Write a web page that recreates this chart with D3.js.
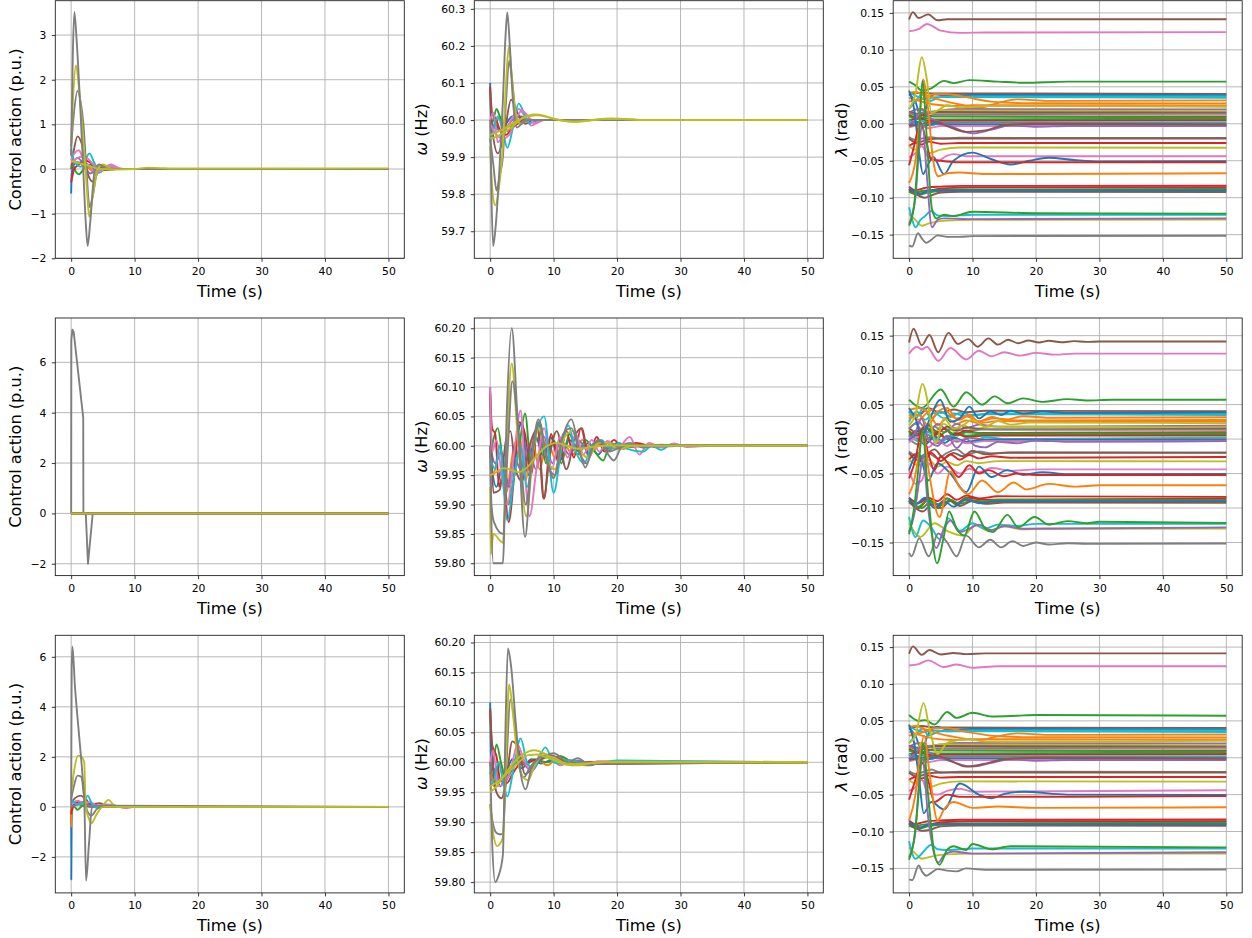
<!DOCTYPE html>
<html><head><meta charset="utf-8">
<script src="https://cdn.jsdelivr.net/npm/d3@7"></script>
<style>body{margin:0;background:#fff}svg{display:block}text{font-family:"DejaVu Sans",sans-serif;fill:#000}</style>
</head><body><svg id="c" width="1252" height="938"></svg>
<script>
// ---------- DATA ----------
const palette = ["#1f77b4","#ff7f0e","#2ca02c","#d62728","#9467bd","#8c564b","#e377c2","#7f7f7f","#bcbd22","#17becf"];
const xTicks = [0,10,20,30,40,50];
const xLimits = [-2.5,52.5];
const xLabel = "Time (s)";

const ctrlTicksRow1 = [-2,-1,0,1,2,3];
const ctrlTicksRow23 = [-2,0,2,4,6];
const freqTicksRow1 = [59.7,59.8,59.9,60.0,60.1,60.2,60.3];
const freqTicksRow23 = [59.80,59.85,59.90,59.95,60.00,60.05,60.10,60.15,60.20];
const angleTicks = [-0.15,-0.10,-0.05,0.00,0.05,0.10,0.15];

const ctrlLimRow1 = [-2.0,3.77], ctrlLimRow2 = [-2.47,7.76], ctrlLimRow3 = [-3.44,6.86];
const freqLimRow1 = [59.627,60.322], freqLimRow2 = [59.779,60.2175], freqLimRow3 = [59.782,60.212];
const angleLimRow1 = [-0.182,0.1665], angleLimRow2 = [-0.198,0.1756], angleLimRow3 = [-0.1832,0.166];

// each series: [colour index, t0, v0, t1, v1, ...]
const ctrlRow1 = [
 [0, 0,-0.55, 0.1,-0.1, 0.4,0.1, 1,0.15, 2,0.1, 3,0.02, 4,0.0, 6,0.02, 8,0.0, 50,0.0],
 [1, 0,0.1, 0.5,0.15, 1.5,0.12, 2.5,0.05, 3.5,-0.05, 4.5,0.02, 6,0.0, 50,0.0],
 [2, 0,0.45, 0.3,0.1, 1.2,-0.12, 2,0.0, 3,0.1, 4,0.0, 5,-0.03, 7,0.0, 50,0.0],
 [3, 0,-0.3, 0.5,0.0, 1.2,0.1, 2,0.2, 3,0.15, 4,0.05, 5,-0.02, 7,0.0, 50,0.0],
 [4, 0,0.05, 1,0.25, 2,0.1, 3,-0.1, 4.5,0.03, 6,0.0, 50,0.0],
 [5, 0,0.0, 0.4,0.4, 1.0,0.73, 1.8,0.5, 2.6,-0.1, 3.4,-0.28, 4.3,-0.05, 5.5,0.05, 7,0.0, 50,0.0],
 [6, 0,0.2, 0.5,0.35, 1.2,0.42, 2,0.2, 3,0.05, 4,-0.1, 5,0.0, 6.3,0.1, 7.5,0.02, 9,0.0, 50,0.0],
 [9, 0,0.4, 0.6,0.15, 1.5,0.05, 2.2,0.2, 2.9,0.35, 3.6,0.15, 4.5,-0.08, 5.5,0.05, 7,0.0, 50,0.0],
 [6, 0,0.15, 1,0.25, 2,0.28, 3.5,0.1, 4.5,-0.05, 6,0.08, 7.5,0.0, 50,0.0],
 [7, 0,0.5, 0.4,1.2, 1.0,1.75, 1.5,1.5, 1.9,1.05, 2.4,0.0, 2.9,-0.85, 3.4,-0.6, 4.2,0.0, 5,0.08, 6.5,0.0, 50,0.0],
 [8, 0,0.6, 0.3,1.6, 0.76,2.32, 1.3,1.7, 2.0,0.5, 2.5,-0.5, 2.85,-1.07, 3.3,-0.7, 4.2,0.0, 5,0.1, 6.5,0.0, 50,0.0],
 [7, 0,0.3, 0.25,2.5, 0.5,3.52, 0.9,2.8, 1.5,1.2, 1.9,0.0, 2.3,-1.2, 2.6,-1.72, 3.0,-1.2, 3.75,0.0, 4.5,0.1, 5.5,0.0, 50,0.0],
 [8, 0,0.18, 1,0.14, 2,0.1, 3,0.06, 4.5,0.0, 7,-0.01, 10,0.0, 12,0.03, 14,0.02, 17,0.01, 50,0.015]
];

const freqRow1 = [
 [0, 0,60.1, 0.15,59.96, 0.8,59.99, 1.6,59.97, 2.5,59.99, 3.5,60.01, 5,60.005, 7,60.0, 50,60.0],
 [1, 0,60.0, 0.6,59.98, 1.5,60.01, 2.5,59.98, 3.5,59.99, 4.5,60.01, 6,60.0, 50,60.0],
 [2, 0,59.98, 0.5,60.0, 1.0,60.03, 1.7,60.0, 2.5,59.97, 3.5,59.985, 4.3,60.01, 5.5,60.0, 50,60.0],
 [3, 0,60.09, 0.3,60.02, 1,60.0, 1.6,59.97, 2.5,59.96, 3.3,59.975, 4.3,59.99, 5.5,60.0, 50,60.0],
 [4, 0,60.0, 0.8,59.98, 2,59.97, 3.5,60.0, 5,60.01, 6.5,59.995, 8,60.0, 50,60.0],
 [5, 0,60.08, 0.3,59.98, 1.2,59.91, 2.2,59.96, 3.3,60.055, 4.3,60.02, 5.5,59.99, 7,60.0, 50,60.0],
 [6, 0,60.0, 0.5,60.02, 1.2,59.94, 2.3,59.97, 3.3,60.0, 4.5,60.03, 5.5,60.01, 6.5,59.985, 8,60.0, 50,60.0],
 [9, 0,59.94, 0.6,59.98, 1.2,60.01, 2.0,59.97, 2.7,59.925, 3.6,59.98, 4.5,60.045, 5.3,60.02, 6.2,59.99, 7.2,60.0, 50,60.0],
 [6, 0,59.99, 1,59.96, 2,59.95, 3,59.96, 4,60.0, 5,60.025, 6,60.01, 7,59.99, 8.5,60.0, 50,60.0],
 [7, 0,59.95, 0.5,59.88, 1.0,59.81, 1.5,59.85, 2.0,59.9, 2.5,60.05, 3.0,60.16, 3.5,60.1, 4.0,60.02, 4.6,59.99, 5.5,60.0, 50,60.0],
 [8, 0,59.93, 0.4,59.8, 0.8,59.77, 1.4,59.82, 2.0,59.93, 2.5,60.1, 2.95,60.2, 3.4,60.12, 4.0,60.02, 4.8,59.99, 6,60.0, 50,60.0],
 [7, 0,60.0, 0.2,59.8, 0.47,59.66, 0.9,59.72, 1.5,59.88, 2.0,60.05, 2.4,60.22, 2.7,60.29, 3.1,60.2, 3.6,60.05, 4.2,59.98, 5,59.99, 6,60.0, 50,60.0],
 [8, 0,59.96, 2,59.975, 4,59.995, 6,60.01, 7.5,60.013, 9,60.008, 11,60.0, 13,59.995, 15,59.997, 18,60.003, 21,60.003, 24,60.0, 50,60.0],
 [8, 0,59.95, 1,59.955, 2,59.965, 3,59.975, 4,59.99, 5,60.005, 6,60.012, 7,60.015, 8.5,60.012, 10,60.003, 12,59.997, 13.5,59.996, 16,60.0, 19,60.004, 22,60.002, 25,60.0, 50,60.0]
];

const angleRow1 = [
 [5, 0,.141, .6,.151, 1.5,.143, 3,.148, 4.5,.140, 6,.1415, 50,.1415],
 [6, 0,.125, 1.5,.128, 2.8,.135, 5,.126, 8,.123, 12,.1235, 50,.124],
 [2, 0,.057, 1,.052, 2,.045, 3.5,.048, 5.5,.058, 7,.055, 9.5,.059, 14,.057, 18,.0555, 25,.057, 50,.057],
 [5, 0,.04, 2,.042, 4,.041, 50,.0405],
 [0, 0,.04, 1,.03, 2,.005, 3,.03, 4,.04, 6,.038, 10,.039, 50,.0388],
 [9, 0,.042, 1,.038, 2.5,.033, 4,.036, 6,.036, 10,.037, 50,.037],
 [9, 0,.02, 1,.03, 2,.04, 3,.03, 5,.036, 50,.035],
 [1, 0,.042, 1,.043, 2,.04, 3,.037, 5,.032, 8,.026, 11,.022, 14,.028, 17,.033, 22,.031, 50,.0316],
 [1, 0,.03, 2,.034, 4,.04, 6,.04, 9,.036, 13,.03, 18,.028, 50,.0276],
 [1, 0,.035, 2,.03, 4,.026, 7,.024, 10,.025, 50,.0249],
 [4, 0,.015, 1.5,.02, 3,.016, 5,.018, 8,.02, 50,.0194],
 [8, 0,.012, 1,.01, 2,.02, 3,.015, 5,.018, 50,.0167],
 [5, 0,.016, 2,.013, 4,.016, 50,.015],
 [7, 0,.015, 1,.012, 2.5,.016, 4,.013, 50,.0135],
 [3, 0,.012, 1,.008, 2.5,.012, 4,.01, 50,.01],
 [2, 0,.01, 1.5,.006, 3,.01, 50,.0086],
 [2, 0,.005, 2,.008, 4,.006, 50,.0068],
 [3, 0,.003, 1.5,.008, 3,.004, 50,.005],
 [9, 0,.005, 1,.0, 2,.004, 3.5,-.002, 5,.002, 50,.002],
 [7, 0,.0, 2,-.003, 4,.002, 50,.0],
 [0, 0,-.002, 1,.003, 2.5,-.003, 4,.0, 8,-.001, 50,-.0018],
 [6, 0,-.005, 1.5,-.002, 3,-.006, 5,-.003, 50,-.003],
 [4, 0,.0, 1,.005, 2,.02, 3,.01, 5,.002, 7,-.005, 10,-.013, 13,-.008, 16,-.002, 20,-.004, 25,-.003, 50,-.003],
 [5, 0,-.003, 2,.0, 4,.003, 6,-.003, 9,-.011, 12,-.009, 15,-.002, 20,.0, 50,-.001],
 [7, 0,-.018, 1,-.022, 2,-.02, 3.5,-.018, 5,-.02, 8,-.019, 50,-.0193],
 [5, 0,-.02, 1,-.025, 2,-.024, 3,-.021, 5,-.02, 50,-.02],
 [3, 0,-.03, 1,-.026, 2,-.028, 3,-.024, 5,-.027, 8,-.026, 50,-.026],
 [8, 0,-.03, 1,-.035, 2,-.03, 3,-.04, 5,-.035, 8,-.032, 50,-.0324],
 [6, 0,-.045, 1,-.04, 2,-.03, 3,-.045, 4.5,-.05, 6,-.043, 7,-.041, 9,-.044, 50,-.044],
 [3, 0,-.085, 1,-.09, 2,-.088, 3,-.086, 5,-.085, 8,-.084, 50,-.0838],
 [3, 0,-.09, 1,-.095, 2.5,-.093, 4,-.089, 6,-.087, 10,-.086, 50,-.086],
 [2, 0,-.088, 1,-.093, 2,-.091, 4,-.09, 8,-.089, 50,-.0882],
 [2, 0,-.092, 1.5,-.096, 3,-.093, 5,-.091, 10,-.09, 50,-.09],
 [5, 0,-.09, 1,-.095, 2.5,-.1, 3.5,-.097, 5,-.093, 8,-.092, 50,-.0923],
 [0, 0,-.088, 1,-.092, 1.8,-.095, 3,-.09, 50,-.09],
 [8, 0,-.122, 1,-.13, 2,-.138, 3,-.135, 4,-.133, 6,-.131, 10,-.13, 50,-.1297],
 [9, 0,-.113, .5,-.13, 1,-.14, 1.8,-.13, 2.5,-.125, 3.5,-.118, 4.5,-.124, 6,-.125, 10,-.123, 50,-.123],
 [7, 0,-.165, .5,-.166, 1.4,-.148, 2,-.155, 2.7,-.161, 3.5,-.157, 4.5,-.151, 6,-.153, 8,-.153, 10,-.152, 50,-.1514],
 [0, 0,.045, .8,.02, 1.6,-.04, 2.2,-.068, 3,-.055, 3.8,-.045, 5.5,-.068, 7,-.05, 10,-.039, 13,-.048, 16,-.055, 19,-.05, 22,-.046, 26,-.049, 30,-.051, 50,-.0505],
 [3, 0,-.056, .8,-.03, 1.8,.002, 2.6,-.02, 3.5,-.048, 5,-.05, 8,-.052, 50,-.052],
 [4, 0,-.135, 1,-.1, 1.6,-.03, 2.1,.0, 2.8,-.07, 3.6,-.14, 4.5,-.13, 5.5,-.128, 10,-.129, 50,-.128],
 [1, 0,-.08, 1,-.05, 1.6,.0, 2.2,.06, 3,.02, 3.8,-.05, 4.6,-.071, 6,-.067, 8,-.066, 12,-.068, 20,-.068, 50,-.067],
 [2, 0,-.138, .8,-.11, 1.5,-.03, 2.1,.058, 2.8,-.02, 3.6,-.115, 4.3,-.128, 5.5,-.123, 7,-.125, 10,-.119, 20,-.121, 50,-.1215],
 [8, 0,.02, 1,.04, 2,.09, 2.8,.06, 3.5,.015, 4.5,.018, 6,.025, 8,.022, 12,.024, 50,.023]
];

const ctrlRow2 = [
 [0, 0,0, 50,0], [1, 0,0, 50,0], [2, 0,0, 50,0], [3, 0,0, 50,0], [5, 0,0, 50,0],
 [7, 0,0, 0.03,6.9, 0.2,7.3, 0.4,7.2, 1.9,3.8, 1.93,0.0, 2.3,0.0, 2.65,-2.0, 3.4,0.0, 50,0.0],
 [8, 0,0, 50,0]
];

const freqRow2 = [
 [0, 0,60.1, 0.2,59.97, 1,59.93, 2,59.97, 3,59.93, 4,60.0, 5,60.04, 6,59.95, 7,60.02, 8.5,59.98, 9.5,60.015, 11,59.975, 12.5,60.01, 14,59.99, 15.5,60.005, 17,59.985, 18.5,60.005, 20,59.998, 22,60.002, 25,60.0, 50,60.0],
 [1, 0,60.0, 0.5,59.95, 1.5,60.0, 2.5,59.92, 3.6,59.99, 4.6,60.02, 5.6,59.94, 6.6,60.01, 7.8,59.96, 9,60.01, 10.2,59.98, 11.5,60.005, 13,59.985, 14.5,60.01, 16,59.99, 17.5,60.005, 19,59.995, 21,60.002, 24,60.0, 50,60.0],
 [2, 0,59.98, 0.5,60.01, 1.2,60.03, 2.0,59.97, 2.8,59.9, 3.8,59.95, 4.6,60.0, 5.5,60.055, 6.5,59.96, 7.6,60.04, 8.8,59.97, 10,60.01, 11.2,59.97, 12.5,60.02, 13.8,59.985, 15,60.01, 16.5,59.99, 17.8,59.975, 19,60.005, 20.5,59.995, 22,60.0, 50,60.0],
 [3, 0,60.09, 0.3,60.03, 0.8,60.02, 1.4,59.93, 2.0,59.95, 2.9,59.87, 3.8,59.95, 4.6,60.04, 5.5,60.02, 6.4,59.95, 7.5,60.03, 8.5,59.91, 9.6,60.02, 10.8,59.97, 12,60.025, 13.2,59.98, 14.3,60.03, 15.5,59.985, 16.8,60.015, 18,59.99, 19.5,60.01, 21,59.995, 23,60.005, 26,59.998, 30,60.0, 50,60.0],
 [4, 0,60.0, 0.8,59.97, 1.8,59.99, 2.8,59.93, 3.8,59.98, 4.8,59.96, 6,60.0, 7.2,59.96, 8.5,60.015, 9.8,59.97, 11,60.005, 12.5,59.985, 14,60.008, 15.5,59.99, 17,60.004, 19,59.997, 22,60.0, 50,60.0],
 [5, 0,60.09, 0.2,60.0, 0.5,59.92, 1.5,59.925, 2.5,60.01, 3.2,60.025, 4.0,59.96, 5,59.94, 6.2,60.0, 7.5,60.03, 8.4,59.91, 9.5,59.99, 10.5,60.025, 12,59.96, 13.5,60.02, 14.5,60.03, 15.5,59.98, 17,60.01, 18.5,59.99, 20,60.005, 22,59.998, 25,60.0, 50,60.0],
 [6, 0,60.1, 0.3,59.99, 1,60.01, 1.8,59.95, 2.7,59.9, 3.8,59.99, 4.8,60.06, 5.5,59.95, 6.2,59.88, 7.3,59.96, 8.5,60.03, 9.7,59.96, 11,60.015, 12.2,59.98, 13.5,60.02, 14.7,59.985, 16,60.01, 17.2,59.99, 18.5,60.008, 20,59.995, 22,60.015, 23.5,59.985, 25,60.005, 27,59.997, 29,60.004, 31,59.998, 35,60.0, 50,60.0],
 [9, 0,59.98, 0.8,59.96, 1.5,60.0, 2.7,59.873, 3.8,59.95, 4.8,60.0, 5.8,59.93, 7,60.01, 8.5,60.05, 10,59.92, 11.3,60.0, 12.3,60.035, 13.5,59.99, 14.8,59.97, 16,60.0, 17.5,60.01, 19,59.995, 20.3,60.005, 21.5,59.995, 24,59.99, 25.5,60.0, 27,59.993, 28.5,60.002, 30,60.0, 50,60.0],
 [8, 0,59.93, 0.1,59.815, 0.5,59.85, 2.0,59.835, 2.6,60.0, 3.4,60.14, 4.3,60.02, 5.7,59.88, 6.8,59.99, 7.8,60.03, 9,59.975, 10.2,59.96, 11.5,60.01, 13,60.025, 14.2,59.99, 15.5,59.98, 17,60.005, 18.5,60.005, 20,59.995, 23,60.0, 50,60.0],
 [7, 0,60.0, 0.2,59.9, 0.6,59.87, 2.0,59.85, 2.8,60.0, 3.5,60.11, 4.5,60.02, 5.6,59.9, 6.7,59.99, 7.8,60.04, 9,59.97, 10.2,59.95, 11.5,60.02, 12.8,60.03, 14.2,59.985, 15.2,59.97, 16.5,60.005, 17.5,60.008, 18.8,59.99, 20,59.995, 22,60.002, 25,60.0, 50,60.0],
 [7, 0,60.0, 0.1,59.93, 0.5,59.80, 2.0,59.80, 2.6,60.05, 3.4,60.2, 4.3,60.05, 5.5,59.845, 6.5,59.97, 7.6,60.045, 8.8,59.985, 10.0,59.945, 11.3,60.01, 12.8,60.045, 14.0,59.995, 15.0,59.963, 16.2,60.0, 17.2,60.01, 18.3,59.99, 19.5,59.975, 20.8,60.0, 22,60.005, 24,59.997, 27,60.002, 30,60.0, 50,60.0],
 [8, 0,59.95, 1,59.955, 2,59.962, 3,59.96, 4.5,59.955, 6,59.965, 7.5,59.985, 9,60.0, 10.5,60.005, 12,60.0, 14,59.995, 16,59.998, 18,60.0, 20,60.001, 25,60.0, 50,60.0]
];

const angleRow2 = [
 [5, 0,.14, .7,.16, 2,.136, 3.2,.151, 4.6,.126, 6.2,.154, 7.7,.138, 9.3,.145, 10.8,.134, 12.5,.146, 14,.137, 15.6,.144, 17.2,.139, 18.8,.143, 20.5,.14, 22,.1425, 24,.1405, 26,.142, 28,.141, 30,.1415, 50,.1415],
 [6, 0,.124, 1.2,.134, 2,.13, 2.8,.134, 4.6,.1135, 6.5,.132, 9,.1155, 11,.128, 13,.12, 15,.126, 17.5,.121, 20,.125, 23,.1225, 26,.124, 50,.124],
 [2, 0,.057, 2,.045, 5,.072, 7,.047, 9,.068, 11.5,.05, 13.5,.062, 15.5,.052, 18,.059, 21,.054, 25,.058, 28,.056, 32,.057, 50,.057],
 [5, 0,.04, 1.5,.035, 3,.045, 5,.038, 7,.043, 9,.039, 12,.041, 50,.0405],
 [9, 0,.04, 1,.03, 2.3,.045, 3.5,.03, 5,.04, 6.5,.032, 8,.038, 10,.035, 13,.037, 50,.037],
 [9, 0,.025, 1.2,.04, 2.5,.028, 4,.038, 5.5,.03, 7,.037, 9,.033, 12,.036, 50,.035],
 [1, 0,.042, 1.5,.045, 3,.04, 5,.05, 6.5,.035, 8,.028, 9.5,.035, 11,.025, 13,.032, 15,.028, 18,.033, 22,.031, 50,.0316],
 [1, 0,.03, 1.5,.035, 3,.02, 4.5,.04, 6,.045, 7.5,.03, 9,.033, 11,.026, 13.5,.03, 17,.027, 50,.0276],
 [1, 0,.035, 1.5,.028, 3,.038, 4.5,.02, 6,.03, 7.5,.022, 9,.027, 11,.023, 14,.026, 50,.0249],
 [4, 0,.015, 1.5,.025, 3,.01, 4.5,.022, 6,.014, 7.5,.022, 9,.016, 11,.021, 14,.018, 50,.0194],
 [8, 0,.012, 1.2,.005, 2.5,.02, 4,.01, 5.5,.022, 7,.012, 8.5,.02, 10,.014, 13,.018, 50,.0167],
 [5, 0,.016, 1.5,.008, 3,.02, 4.5,.01, 6,.018, 7.5,.012, 9,.017, 12,.014, 50,.015],
 [7, 0,.015, 1,.022, 2.5,.008, 4,.018, 5.5,.01, 7,.016, 9,.012, 12,.014, 50,.0135],
 [3, 0,.012, 1,.002, 2.5,.018, 4,.005, 5.5,.015, 7,.006, 9,.012, 11,.009, 50,.01],
 [2, 0,.01, 1.5,.0, 3,.015, 4.5,.002, 6,.012, 7.5,.005, 9,.01, 12,.008, 50,.0086],
 [2, 0,.005, 1.2,.012, 2.8,.0, 4.2,.01, 5.8,.002, 7.2,.009, 9,.005, 12,.007, 50,.0068],
 [3, 0,.003, 1.5,.012, 3,-.004, 4.5,.01, 6,.0, 7.5,.008, 9,.003, 12,.005, 50,.005],
 [9, 0,.005, 1.5,-.003, 3,.01, 5,-.005, 6.5,.005, 8.5,-.003, 10,-.005, 12,.003, 15,.0, 50,.002],
 [7, 0,.0, 1.5,-.008, 3,.006, 4.5,-.006, 6,.004, 7.5,-.004, 9.5,.002, 12,-.001, 50,.0],
 [0, 0,-.002, 1,.006, 2.5,-.008, 4,.004, 5.5,-.006, 7,.002, 9,-.004, 12,-.001, 50,-.0018],
 [6, 0,-.005, 1.5,.003, 3,-.012, 4.5,-.002, 6,-.01, 7.5,-.001, 9,-.006, 12,-.003, 50,-.003],
 [4, 0,.0, 1,.01, 2,.03, 3,.0, 4.5,-.01, 6,.005, 7.5,-.013, 9,.0, 10.5,-.01, 12,-.012, 14,-.004, 17,-.006, 20,-.002, 25,-.004, 50,-.003],
 [7, 0,-.018, 1.5,-.026, 3,-.02, 4.5,-.028, 6,-.02, 7.5,-.015, 9,-.023, 11,-.018, 13,-.021, 16,-.019, 50,-.0193],
 [5, 0,-.02, 1.2,-.03, 2.5,-.025, 4,-.015, 5.5,-.028, 7,-.02, 8.5,-.025, 10,-.017, 12,-.022, 15,-.02, 50,-.02],
 [3, 0,-.03, 1,-.022, 2.2,-.035, 3.5,-.02, 5,-.032, 6.5,-.022, 8,-.03, 9.5,-.023, 11,-.028, 13,-.025, 16,-.027, 50,-.026],
 [8, 0,-.03, 1.5,-.038, 3,-.03, 4.5,-.04, 6,-.033, 7.5,-.038, 9,-.032, 11,-.035, 14,-.032, 50,-.0324],
 [6, 0,-.045, 1,-.065, 2,-.06, 3,-.035, 4.5,-.05, 6,-.04, 8,-.05, 9.5,-.043, 11,-.048, 13,-.042, 16,-.046, 20,-.044, 50,-.044],
 [3, 0,-.085, 1.5,-.093, 3,-.085, 4.5,-.09, 6,-.08, 7.5,-.088, 9,-.082, 11,-.086, 14,-.083, 50,-.0838],
 [3, 0,-.09, 1.5,-.1, 3,-.088, 4.5,-.095, 6,-.086, 7.5,-.093, 9,-.085, 12,-.088, 50,-.086],
 [2, 0,-.088, 1.5,-.098, 3,-.088, 4.5,-.1, 6,-.086, 7.5,-.095, 9,-.086, 11,-.092, 14,-.088, 50,-.0882],
 [2, 0,-.092, 2,-.1, 3.5,-.09, 5,-.096, 6.5,-.088, 8,-.094, 10,-.089, 13,-.091, 50,-.09],
 [5, 0,-.09, 1,-.1, 2.2,-.105, 3.5,-.095, 5,-.1, 6.5,-.09, 8,-.097, 10,-.09, 12,-.094, 15,-.092, 50,-.0923],
 [0, 0,-.085, 1,-.095, 2.5,-.085, 4,-.1, 5.5,-.09, 7,-.098, 9,-.088, 11,-.093, 14,-.09, 50,-.09],
 [8, 0,-.122, 1.8,-.142, 4,-.122, 6,-.133, 8.5,-.14, 10.5,-.125, 12.5,-.133, 15,-.127, 18,-.131, 21,-.13, 50,-.1297],
 [9, 0,-.113, 1,-.142, 2.2,-.118, 3.5,-.128, 4.8,-.145, 6.2,-.115, 8,-.133, 10,-.122, 12,-.13, 14,-.124, 17,-.126, 20,-.123, 50,-.123],
 [7, 0,-.165, .4,-.17, 1.6,-.144, 3.1,-.17, 4.6,-.137, 6,-.15, 7.5,-.17, 9,-.14, 11,-.157, 12.8,-.146, 14.5,-.157, 16.3,-.148, 18,-.155, 20,-.15, 22,-.153, 25,-.151, 28,-.152, 50,-.1514],
 [0, 0,.045, 1,.03, 2,.005, 3.3,.03, 4.9,.057, 6.5,.025, 8,.03, 9.5,.047, 11,.03, 12.8,.04, 14.5,.035, 16,.041, 18,.037, 21,.04, 25,.038, 50,.0388],
 [0, 0,-.045, 1.5,-.02, 3,-.06, 4.5,-.035, 6.5,-.05, 9,-.077, 11,-.04, 13,-.055, 15.5,-.045, 18,-.052, 21,-.048, 25,-.051, 50,-.0505],
 [3, 0,-.057, 1,-.03, 2,.012, 3,-.02, 4,-.045, 5,-.025, 6.5,-.04, 7.8,-.055, 9.5,-.038, 11,-.05, 12.5,-.045, 15,-.054, 17,-.05, 20,-.052, 50,-.052],
 [4, 0,-.135, .8,-.11, 1.6,-.06, 2.2,-.025, 3,-.1, 4.3,-.158, 5.5,-.13, 6.5,-.118, 8,-.135, 9.5,-.13, 11,-.124, 13,-.132, 15,-.126, 18,-.13, 50,-.128],
 [1, 0,-.08, .8,-.06, 1.6,-.02, 2.2,.01, 3,-.04, 4.8,-.113, 6.5,-.047, 8,-.07, 9.3,-.08, 11.5,-.06, 14,-.077, 16.5,-.063, 18.5,-.073, 22,-.065, 26,-.069, 30,-.067, 50,-.067],
 [2, 0,-.138, .8,-.1, 1.5,-.04, 2.1,.013, 3,-.08, 4.4,-.18, 5.5,-.14, 6.3,-.105, 7.5,-.13, 8.7,-.14, 10.3,-.105, 12,-.13, 13.2,-.135, 15.5,-.11, 17.2,-.128, 19.8,-.113, 22,-.124, 25,-.119, 28,-.122, 30,-.12, 50,-.1215],
 [8, 0,.02, 1,.035, 2.1,.08, 3,.05, 3.5,.02, 4.2,-.006, 5.5,.03, 7,.015, 8.5,.02, 10,.028, 12,.018, 14,.026, 16,.021, 19,.024, 50,.023]
];

const ctrlRow3 = [
 [0, 0,0, 0.02,-2.9, 0.08,-0.5, 0.3,0.05, 1,0.1, 2,0.05, 3,0.0, 50,0.0],
 [1, 0,0, 0.02,-0.8, 0.1,-0.2, 0.5,0.05, 1.5,0.1, 3,0.05, 4.5,0.0, 50,0],
 [2, 0,0, 0.5,0.0, 1,-0.12, 1.8,0.05, 3,0.1, 4.5,0.0, 50,0],
 [3, 0,-0.3, 0.3,0.05, 1.2,0.2, 2.5,0.15, 4,0.05, 5.5,0.0, 50,0],
 [4, 0,0, 1,0.1, 2,0.2, 3.5,0.0, 5,0.05, 6.5,0, 50,0],
 [5, 0,0.1, 0.6,0.35, 1.5,0.45, 2.3,0.3, 3.2,0.1, 4.5,0.15, 6,0.0, 50,0],
 [6, 0,0.1, 1,0.25, 2,0.15, 3,0.2, 4,0.05, 5.5,0.1, 7,0.05, 8.5,-0.05, 10,0.0, 50,0],
 [9, 0,0.3, 1,0.1, 2,0.2, 2.6,0.45, 3.3,0.1, 4.2,-0.05, 5.5,0.05, 7,0, 50,0],
 [7, 0,0.3, 0.5,0.9, 1.0,1.25, 1.6,1.2, 2.1,0.3, 2.6,-0.2, 3.2,-0.35, 4,-0.1, 4.8,0.0, 50,0],
 [8, 0,0.5, 0.5,1.5, 1.1,2.05, 1.6,2.0, 2.05,1.8, 2.3,0.0, 2.7,-0.4, 3.2,-0.65, 4,-0.3, 5,0.05, 5.9,0.28, 6.6,0.1, 7.5,0.0, 50,0],
 [7, 0,0, 0.08,5.5, 0.2,6.4, 0.6,4.8, 1.2,3.0, 1.8,1.2, 2.1,0.0, 2.35,-2.95, 2.8,-1.5, 3.3,0.0, 4,0.05, 50,0],
 [8, 5,0, 50,0]
];

const freqRow3 = [
 [0, 0,60.1, 0.15,59.97, 0.8,59.99, 1.6,59.96, 2.6,59.985, 3.5,60.005, 5,59.99, 6.5,60.005, 8,59.998, 10,60.005, 12,60.0, 50,60.0],
 [1, 0,60.0, 0.6,59.96, 1.5,60.0, 2.5,59.975, 3.5,59.99, 4.5,60.01, 6,59.99, 7.5,60.005, 9,59.995, 11,60.01, 13,60.0, 15,59.995, 18,60.0, 50,60.0],
 [2, 0,59.98, 0.5,60.0, 1.0,60.03, 1.7,60.0, 2.4,59.97, 3.3,59.985, 4.3,60.01, 5.5,59.995, 7,60.005, 9,60.0, 11,60.01, 13,60.0, 16,59.997, 50,60.0],
 [3, 0,60.09, 0.3,60.03, 1,60.01, 1.6,59.97, 2.6,59.965, 3.5,59.98, 4.5,59.995, 5.8,60.0, 7.5,60.005, 9.5,60.012, 11,60.005, 13,59.998, 16,60.0, 50,60.0],
 [4, 0,60.0, 0.8,59.98, 2,59.97, 3.5,59.995, 5,60.0, 6.5,59.985, 8,60.005, 10,60.01, 12,60.0, 14,60.003, 16,59.997, 50,60.0],
 [5, 0,60.09, 0.4,60.0, 1.0,59.95, 1.8,59.94, 2.4,59.96, 3.5,60.035, 4.5,60.02, 5.5,59.98, 7,59.995, 9,60.01, 11,60.005, 13,59.998, 50,60.0],
 [6, 0,60.0, 0.5,60.02, 1.2,59.96, 2.3,59.965, 3.3,59.99, 4.3,60.03, 5.3,60.005, 6.5,59.985, 8,60.015, 9.5,60.01, 11,59.995, 13,60.002, 15,59.997, 17,60.002, 50,60.0],
 [9, 0,59.96, 0.6,59.97, 1.3,60.0, 2.0,59.97, 2.7,59.943, 3.7,59.99, 4.8,60.04, 5.8,60.0, 6.8,59.99, 8.7,60.025, 10,60.0, 11,59.998, 12.5,60.004, 15,59.998, 18,60.0, 20,60.003, 50,60.0],
 [7, 0,59.93, 0.4,59.9, 1.0,59.882, 1.5,59.88, 2.0,59.88, 2.5,59.98, 3.2,60.105, 3.8,60.07, 4.5,60.0, 5.3,59.975, 6.2,59.99, 7.5,60.005, 9,60.012, 10.5,60.005, 12,59.998, 13.8,60.007, 15.8,59.995, 17.5,60.0, 50,60.0],
 [8, 0,59.93, 0.5,59.88, 1.1,59.86, 1.6,59.865, 2.0,59.875, 2.4,59.98, 3.0,60.13, 3.6,60.08, 4.4,60.0, 5.2,59.975, 6,59.97, 7,59.995, 8.5,60.01, 10,60.008, 12,59.998, 15,59.997, 18,60.0, 50,60.0],
 [7, 0,60.0, 0.3,59.87, 0.8,59.8, 1.3,59.81, 2.0,59.845, 2.4,60.05, 2.8,60.19, 3.3,60.16, 4.0,60.07, 4.7,59.99, 5.6,59.955, 6.5,59.99, 7.5,60.005, 8.5,60.01, 10,60.015, 11.5,60.005, 13,59.995, 14,60.0, 15.5,59.995, 17,60.0, 50,60.0],
 [8, 0,59.96, 1.5,59.97, 3,59.985, 4.5,60.0, 6,60.012, 7.5,60.013, 9,60.008, 11,60.0, 13,59.997, 15,59.998, 18,60.0, 50,60.0],
 [8, 0,59.95, 1,59.96, 2,59.975, 3,59.99, 4.5,60.008, 6,60.018, 7,60.02, 8.5,60.015, 10,60.005, 12,59.996, 14,59.995, 16,59.999, 19,60.001, 22,60.001, 50,60.0]
];

const angleRow3 = [
 [5, 0,.141, .6,.151, 2,.1395, 3.2,.146, 5,.14, 7,.142, 9,.1405, 12,.1415, 50,.1415],
 [6, 0,.125, 1.5,.127, 3,.132, 5.5,.123, 7.5,.1265, 10,.122, 14,.124, 50,.124],
 [2, 0,.058, 1.5,.05, 2.5,.051, 4,.045, 6,.062, 7.5,.054, 10,.061, 13,.056, 17,.057, 20,.058, 50,.057],
 [5, 0,.04, 2,.043, 4,.041, 50,.0405],
 [0, 0,.04, 1,.03, 2,.01, 3,.032, 4.5,.042, 6,.038, 10,.039, 50,.0388],
 [9, 0,.042, 1,.038, 2.5,.035, 4,.037, 6,.036, 10,.037, 50,.037],
 [9, 0,.02, 1,.03, 2.2,.04, 3,.03, 5,.036, 50,.035],
 [1, 0,.042, 1,.043, 2,.04, 3,.037, 5,.032, 8,.027, 11,.024, 14,.029, 17,.033, 22,.031, 50,.0316],
 [1, 0,.03, 2,.034, 4,.04, 6,.04, 9,.035, 13,.03, 18,.028, 50,.0276],
 [1, 0,.035, 2,.03, 4,.026, 7,.024, 10,.025, 50,.0249],
 [4, 0,.015, 1.5,.02, 3,.016, 5,.018, 8,.02, 50,.0194],
 [8, 0,.012, 1,.01, 2,.02, 3,.015, 5,.018, 50,.0167],
 [5, 0,.016, 2,.013, 4,.016, 50,.015],
 [7, 0,.015, 1,.012, 2.5,.016, 4,.013, 50,.0135],
 [3, 0,.012, 1,.008, 2.5,.012, 4,.01, 50,.01],
 [2, 0,.01, 1.5,.006, 3,.01, 50,.0086],
 [2, 0,.005, 2,.008, 4,.006, 50,.0068],
 [3, 0,.003, 1.5,.008, 3,.004, 50,.005],
 [9, 0,.005, 1,.0, 2,.004, 3.5,-.002, 5,.002, 50,.002],
 [7, 0,.0, 2,-.003, 4,.002, 50,.0],
 [0, 0,-.002, 1,.003, 2.5,-.003, 4,.0, 8,-.001, 50,-.0018],
 [6, 0,-.005, 1.5,-.002, 3,-.006, 5,-.003, 50,-.003],
 [4, 0,.0, 1,.005, 2,.015, 3,.008, 5,.0, 7,-.006, 10,-.012, 13,-.007, 16,-.002, 20,-.004, 25,-.003, 50,-.003],
 [5, 0,-.003, 2,.0, 4,.003, 6,-.002, 9,-.012, 12,-.008, 15,-.002, 20,.0, 50,-.001],
 [7, 0,-.018, 1,-.022, 2,-.02, 3.5,-.016, 5,-.02, 8,-.019, 50,-.0193],
 [5, 0,-.02, 1,-.025, 2,-.024, 3,-.021, 5,-.02, 50,-.02],
 [3, 0,-.03, 1,-.026, 2,-.028, 3,-.024, 5,-.027, 8,-.026, 50,-.026],
 [8, 0,-.03, 1,-.035, 2,-.03, 3,-.04, 5,-.035, 8,-.032, 50,-.0324],
 [6, 0,-.045, 1,-.04, 2,-.03, 3,-.048, 4.5,-.05, 6,-.045, 8,-.042, 10,-.046, 50,-.044],
 [3, 0,-.085, 1,-.09, 2,-.088, 3,-.086, 5,-.085, 8,-.084, 50,-.0838],
 [3, 0,-.09, 1,-.095, 2.5,-.093, 4,-.089, 6,-.087, 10,-.086, 50,-.086],
 [2, 0,-.088, 1,-.093, 2,-.091, 4,-.09, 8,-.089, 50,-.0882],
 [2, 0,-.092, 1.5,-.096, 3,-.093, 5,-.091, 10,-.09, 50,-.09],
 [5, 0,-.09, 1,-.095, 2,-.099, 3.5,-.097, 5,-.093, 8,-.092, 50,-.0923],
 [0, 0,-.088, 1,-.092, 1.8,-.095, 3,-.09, 50,-.09],
 [8, 0,-.122, 1,-.13, 2,-.137, 3,-.135, 4,-.133, 6,-.131, 10,-.13, 50,-.1297],
 [9, 0,-.113, .5,-.13, 1,-.137, 1.8,-.132, 2.5,-.125, 3.5,-.118, 4.5,-.124, 6,-.125, 10,-.123, 50,-.123],
 [7, 0,-.165, .5,-.166, 1.5,-.146, 2.1,-.155, 2.7,-.16, 3.5,-.156, 4.5,-.151, 6,-.153, 7.5,-.154, 9,-.15, 12,-.152, 50,-.1514],
 [0, 0,.045, .8,.02, 1.6,-.03, 2.3,-.075, 3.5,-.06, 5.5,-.07, 8,-.035, 11,-.05, 13,-.055, 15,-.049, 18,-.046, 25,-.05, 50,-.0505],
 [3, 0,-.057, 1,-.03, 2,-.006, 3,-.03, 4,-.06, 6,-.05, 8,-.053, 50,-.052],
 [4, 0,-.135, 1,-.1, 1.6,-.03, 2.1,.0, 3,-.08, 4.6,-.142, 5.5,-.132, 7,-.127, 10,-.13, 50,-.128],
 [1, 0,-.085, 1,-.05, 1.8,.01, 2.4,.03, 3.2,-.02, 4.5,-.085, 5.5,-.07, 7,-.06, 10,-.068, 14,-.066, 20,-.068, 50,-.067],
 [2, 0,-.138, .8,-.11, 1.6,-.04, 2.2,.02, 3,-.05, 4,-.13, 4.8,-.145, 6,-.125, 7,-.12, 9,-.125, 10,-.117, 13,-.124, 16,-.12, 50,-.1215],
 [8, 0,.02, 1,.03, 2.3,.074, 3.2,.04, 4.5,.005, 6,.02, 9,.025, 12,.022, 50,.023]
];

const ctrlLabel = "Control action (p.u.)";
const freqSymbol = "ω", freqUnit = " (Hz)";
const angleSymbol = "λ", angleUnit = " (rad)";

// ---------- LAYOUT ----------
const colLeft = [55.3, 474.3, 893.2];
const rowTop = [0.7, 318.0, 635.3];
const axW = 349, axH = 257.6;
const yLabelX = [15, 421, 841];

const fmtCtrl = d3.format("d"), fmtF1 = d3.format(".1f"), fmtF2 = d3.format(".2f");

const panels = [
 {row:0,col:0,data:ctrlRow1,lim:ctrlLimRow1,ticks:ctrlTicksRow1,fmt:fmtCtrl,kind:"ctrl",curve:d3.curveMonotoneX},
 {row:0,col:1,data:freqRow1,lim:freqLimRow1,ticks:freqTicksRow1,fmt:fmtF1,kind:"freq",curve:d3.curveMonotoneX},
 {row:0,col:2,data:angleRow1,lim:angleLimRow1,ticks:angleTicks,fmt:fmtF2,kind:"angle",curve:d3.curveMonotoneX},
 {row:1,col:0,data:ctrlRow2,lim:ctrlLimRow2,ticks:ctrlTicksRow23,fmt:fmtCtrl,kind:"ctrl",curve:d3.curveLinear},
 {row:1,col:1,data:freqRow2,lim:freqLimRow2,ticks:freqTicksRow23,fmt:fmtF2,kind:"freq",curve:d3.curveMonotoneX},
 {row:1,col:2,data:angleRow2,lim:angleLimRow2,ticks:angleTicks,fmt:fmtF2,kind:"angle",curve:d3.curveMonotoneX},
 {row:2,col:0,data:ctrlRow3,lim:ctrlLimRow3,ticks:ctrlTicksRow23,fmt:fmtCtrl,kind:"ctrl",curve:d3.curveMonotoneX},
 {row:2,col:1,data:freqRow3,lim:freqLimRow3,ticks:freqTicksRow23,fmt:fmtF2,kind:"freq",curve:d3.curveMonotoneX},
 {row:2,col:2,data:angleRow3,lim:angleLimRow3,ticks:angleTicks,fmt:fmtF2,kind:"angle",curve:d3.curveMonotoneX}
];

const svg = d3.select("#c");
const toPts = s => { const p=[]; for(let i=1;i<s.length;i+=2) p.push([s[i],s[i+1]]); return p; };

panels.forEach((P,i) => {
  const x0 = colLeft[P.col], y0 = rowTop[P.row];
  const x = d3.scaleLinear().domain(xLimits).range([0,axW]);
  const y = d3.scaleLinear().domain(P.lim).range([axH,0]);
  const g = svg.append("g").attr("transform",`translate(${x0},${y0})`);
  const clipId = "clip"+i;
  g.append("clipPath").attr("id",clipId).append("rect").attr("width",axW).attr("height",axH);

  // grid
  const grid = g.append("g");
  grid.selectAll("line.gx").data(xTicks).join("line")
    .attr("x1",d=>x(d)).attr("x2",d=>x(d)).attr("y1",0).attr("y2",axH)
    .attr("stroke","#b0b0b0").attr("stroke-width",0.9);
  grid.selectAll("line.gy").data(P.ticks).join("line").attr("class","gy")
    .attr("x1",0).attr("x2",axW).attr("y1",d=>y(d)).attr("y2",d=>y(d))
    .attr("stroke","#b0b0b0").attr("stroke-width",0.9);

  // lines
  const line = d3.line().x(d=>x(d[0])).y(d=>y(d[1])).curve(P.curve);
  g.append("g").attr("clip-path",`url(#${clipId})`)
    .selectAll("path").data(P.data).join("path")
    .attr("d",s=>line(toPts(s))).attr("fill","none")
    .attr("stroke",s=>palette[s[0]]).attr("stroke-width",1.9)
    .attr("stroke-linejoin","round").attr("stroke-linecap","butt");

  // axes
  const ax = g.append("g").attr("transform",`translate(0,${axH})`)
    .call(d3.axisBottom(x).tickValues(xTicks).tickSize(3.5).tickPadding(4).tickFormat(d3.format("d")));
  const ay = g.append("g")
    .call(d3.axisLeft(y).tickValues(P.ticks).tickSize(3.5).tickPadding(5.5).tickFormat(P.fmt));
  [ax,ay].forEach(a=>{
    a.select(".domain").remove();
    a.selectAll("line").attr("stroke","#222").attr("stroke-width",0.9);
    a.selectAll("text").attr("font-family","DejaVu Sans").attr("font-size","10.8px").attr("fill","#222");
  });
  ax.selectAll("text").attr("dy",null).attr("y",13.1).attr("dominant-baseline","central");
  ay.selectAll("text").attr("dy",null).attr("dominant-baseline","central");

  g.append("rect").attr("width",axW).attr("height",axH).attr("fill","none")
    .attr("stroke","#222").attr("stroke-width",0.9);

  // labels
  g.append("text").attr("x",axW/2).attr("y",axH+33).attr("text-anchor","middle")
    .attr("dominant-baseline","central").attr("font-size","16.2px").text(xLabel);
  const yl = svg.append("text").attr("transform",`translate(${yLabelX[P.col]},${y0+axH/2}) rotate(-90)`)
    .attr("text-anchor","middle").attr("dominant-baseline","central").attr("font-size","16.2px");
  if (P.kind==="ctrl") yl.text(ctrlLabel);
  else {
    yl.append("tspan").attr("font-style","italic").text(P.kind==="freq"?freqSymbol:angleSymbol);
    yl.append("tspan").text(P.kind==="freq"?freqUnit:angleUnit);
  }
});
</script></body></html>
